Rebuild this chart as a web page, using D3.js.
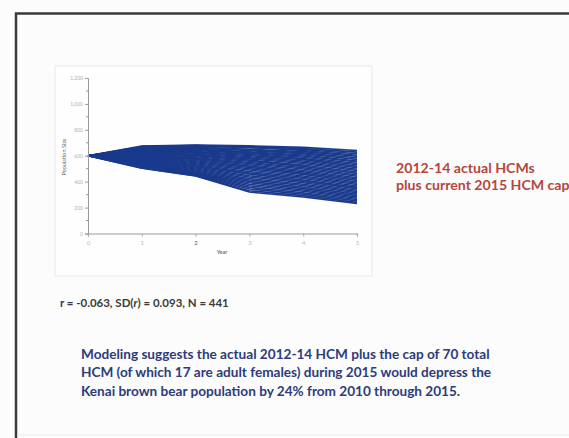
<!DOCTYPE html>
<html>
<head>
<meta charset="utf-8">
<script src="https://cdn.jsdelivr.net/npm/d3@7"></script>
<style>
  html, body { margin: 0; padding: 0; background: #fcfcfc; }
  svg { display: block; }
</style>
</head>
<body>
<svg id="slide" width="569" height="438"></svg>
<script>
// Simulated population trajectories, years 0..5 after 2010
const years = [0, 1, 2, 3, 4, 5];
const trajectories = [
  [600, 675, 682, 676, 665, 640],
  [600, 672, 676, 670, 655, 628],
  [600, 668, 680, 662, 648, 615],
  [600, 664, 670, 666, 640, 604],
  [600, 660, 664, 650, 632, 596],
  [600, 655, 668, 646, 622, 585],
  [600, 652, 658, 640, 615, 572],
  [600, 648, 652, 630, 606, 560],
  [600, 644, 646, 624, 598, 552],
  [600, 640, 640, 618, 588, 540],
  [600, 636, 632, 610, 578, 530],
  [600, 632, 626, 602, 570, 518],
  [600, 628, 620, 592, 560, 508],
  [600, 624, 612, 584, 550, 496],
  [600, 620, 606, 576, 540, 486],
  [600, 616, 600, 566, 528, 474],
  [600, 612, 592, 558, 518, 464],
  [600, 606, 584, 548, 508, 452],
  [600, 602, 578, 540, 498, 442],
  [600, 598, 570, 530, 486, 430],
  [600, 594, 562, 520, 476, 420],
  [600, 590, 554, 510, 466, 410],
  [600, 586, 546, 500, 456, 398],
  [600, 580, 538, 490, 444, 388],
  [600, 576, 530, 478, 434, 378],
  [600, 572, 522, 468, 424, 366],
  [600, 566, 514, 458, 412, 356],
  [600, 562, 506, 446, 402, 346],
  [600, 556, 498, 436, 392, 334],
  [600, 552, 490, 424, 380, 324],
  [600, 546, 482, 414, 370, 314],
  [600, 542, 474, 402, 358, 304],
  [600, 536, 468, 392, 346, 292],
  [600, 530, 462, 380, 336, 282],
  [600, 524, 458, 368, 326, 272],
  [600, 518, 454, 356, 314, 262],
  [600, 512, 450, 344, 304, 252],
  [600, 506, 446, 330, 292, 240],
  [600, 504, 444, 320, 282, 232]
];
const yTicks = [0, 200, 400, 600, 800, 1000, 1200];
const xTicks = [0, 1, 2, 3, 4, 5];

const scenarioLines = ["2012-14 actual HCMs", "plus current 2015 HCM cap"];
const noteLines = [
  "Modeling suggests the actual 2012-14 HCM plus the cap of 70 total",
  "HCM (of which 17 are adult females) during 2015 would depress the",
  "Kenai brown bear population by 24% from 2010 through 2015."
];

const svg = d3.select("#slide");
const W = 569, H = 438;

// slide frame
svg.append("rect").attr("width", W).attr("height", H).attr("fill", "#fcfcfc");
svg.append("path")
  .attr("d", `M16,${H} L16,13.5 L${W},13.5`)
  .attr("fill", "none").attr("stroke", "#3a3a3a").attr("stroke-width", 2.5);
svg.append("line").attr("x1", 17).attr("x2", W).attr("y1", 435).attr("y2", 435)
  .attr("stroke", "#ececec").attr("stroke-width", 1);

// chart panel
svg.append("rect").attr("x", 55).attr("y", 66).attr("width", 317).attr("height", 210)
  .attr("fill", "#fefefe").attr("stroke", "#ececec").attr("stroke-width", 1.2);

const x = d3.scaleLinear().domain([0, 5]).range([88, 357]);
const y = d3.scaleLinear().domain([0, 1200]).range([233.5, 78]);

// trajectories
const line = d3.line().x((d, i) => x(years[i])).y(d => y(d));
svg.append("g").selectAll("path").data(trajectories).join("path")
  .attr("d", line)
  .attr("fill", "none")
  .attr("stroke", "#1a3a8c")
  .attr("stroke-width", 1.6)
  .attr("stroke-linejoin", "round");

// axes
const yAxis = d3.axisLeft(y).tickValues(yTicks).tickSize(3).tickPadding(2);
const gy = svg.append("g").attr("transform", `translate(${x(0)},0)`).call(yAxis);
const minor = d3.range(100, 1200, 200);
gy.selectAll(".minor").data(minor).join("line").attr("class", "minor")
  .attr("x1", -2).attr("x2", 0).attr("y1", d => y(d)).attr("y2", d => y(d))
  .attr("stroke", "#9a9a9a");
gy.select(".domain").attr("stroke", "#9a9a9a");
gy.selectAll(".tick line").attr("stroke", "#9a9a9a");
gy.selectAll("text").attr("fill", "#b0b0b0").attr("font-size", 5)
  .attr("font-family", "Lato, sans-serif");

const xAxis = d3.axisBottom(x).tickValues(xTicks).tickSize(3).tickPadding(4)
  .tickFormat(d3.format("d"));
const gx = svg.append("g").attr("transform", `translate(0,${y(0)})`).call(xAxis);
gx.select(".domain").attr("stroke", "#9a9a9a").attr("stroke-width", 1.2);
gx.selectAll(".tick line").attr("stroke", "#aaaaaa");
gx.selectAll("text").attr("fill", (d) => d === 2 ? "#555" : "#bbb").attr("font-size", 6)
  .attr("font-family", "Lato, sans-serif");

svg.append("text").attr("x", 222).attr("y", 254).attr("text-anchor", "middle")
  .attr("font-family", "Lato, sans-serif").attr("font-size", 5.5).attr("font-weight", "bold")
  .attr("fill", "#777").text("Year");
svg.append("text").attr("transform", `translate(66,157) rotate(-90)`)
  .attr("text-anchor", "middle").attr("font-family", "Lato, sans-serif")
  .attr("font-size", 5.5).attr("fill", "#666").text("Population Size");

// fit a text element to a target width by adjusting its font size
function fit(sel, target) {
  const w = sel.node().getComputedTextLength();
  const fs = parseFloat(sel.attr("font-size"));
  sel.attr("font-size", fs * target / w);
}

// scenario caption
const cap = svg.append("g").attr("font-family", "Lato, sans-serif")
  .attr("font-weight", "bold").attr("fill", "#b4463d");
const c1 = cap.append("text").attr("x", 396).attr("y", 172.5).attr("font-size", 12).text(scenarioLines[0]);
fit(c1, 139);
cap.append("text").attr("x", 396).attr("y", 190).attr("font-size", c1.attr("font-size")).text(scenarioLines[1]);

// correlation statistics
const st = svg.append("text").attr("x", 60).attr("y", 307)
  .attr("font-family", "Lato, sans-serif").attr("font-weight", "bold")
  .attr("font-size", 9).attr("fill", "#3a3a3a");
st.append("tspan").text("r = -0.063, SD(");
st.append("tspan").attr("font-style", "italic").text("r");
st.append("tspan").text(") = 0.093, N = 441");
fit(st, 169);

// summary note
const note = svg.append("g").attr("font-family", "Lato, sans-serif")
  .attr("font-weight", "bold").attr("fill", "#2d3b7c");
const n1 = note.append("text").attr("x", 81).attr("y", 358.5).attr("font-size", 11).text(noteLines[0]);
fit(n1, 409);
const nfs = n1.attr("font-size");
note.append("text").attr("x", 81).attr("y", 377).attr("font-size", nfs).text(noteLines[1]);
note.append("text").attr("x", 81).attr("y", 395.5).attr("font-size", nfs).text(noteLines[2]);
</script>
</body>
</html>
